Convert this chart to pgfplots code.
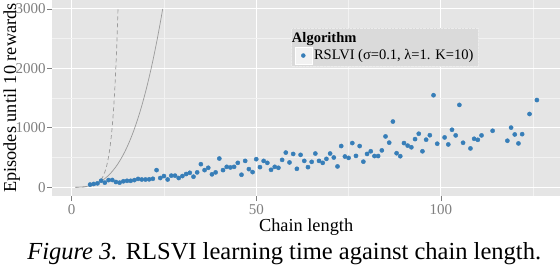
\documentclass[border=0pt]{standalone}
\usepackage{pgfplots}
\pgfplotsset{compat=1.18}
\usepackage{fontspec}
\setmainfont{Liberation Serif}
\newfontfamily\lser{Liberation Serif}
\definecolor{panel}{HTML}{E5E5E5}
\definecolor{minorgrid}{HTML}{F2F2F2}
\definecolor{ticktext}{HTML}{7F7F7F}
\definecolor{ptblue}{HTML}{377EB8}
\definecolor{curvegray}{HTML}{9A9A9A}
\definecolor{legbg}{HTML}{DADADA}
\definecolor{keybg}{HTML}{F2F2F2}

\pgfplotstableread{
n v
5 45
6 55
7 65
8 110
9 77
10 120
11 122
12 88
13 77
14 100
15 108
16 108
17 120
18 140
19 130
20 130
21 133
22 142
23 288
24 155
25 188
26 130
27 195
28 195
29 155
30 188
31 222
32 243
33 177
34 250
35 388
36 288
37 327
38 217
39 250
40 483
41 288
42 343
43 333
44 343
45 410
46 210
47 443
48 305
49 255
50 472
51 338
52 443
53 410
54 293
55 343
56 327
57 460
58 583
59 417
60 560
61 310
62 545
63 443
64 338
65 427
66 567
67 443
68 410
69 477
70 567
71 500
72 350
73 693
74 517
75 493
76 743
77 527
78 693
79 430
80 560
81 605
82 525
83 525
84 620
85 855
86 750
87 1105
88 572
89 522
90 743
91 700
92 672
93 810
94 900
95 605
96 800
97 875
98 1548
99 732
101 838
102 720
103 967
104 872
105 1385
106 748
108 653
109 815
110 798
111 872
114 950
118 782
119 1003
120 888
121 737
122 893
124 1232
126 1467
}\rlsvi

\pgfplotstableread{
n v
1 0.2
2 1.6
3 5.4
4 12.8
5 25
6 43.2
7 68.6
8 102.4
9 145.8
10 200
11 266.2
12 345.6
13 439.4
14 548.8
15 675
16 819.2
17 982.6
18 1166.4
19 1371.8
20 1600
21 1852.2
22 2129.6
23 2433.4
24 2764.8
24.66 2999
}\cubic

\pgfplotstableread{
n v
1 1
2 2
3 4
4 8
5 16
6 32
7 64
7.5 90.5
8 128
8.5 181
9 256
9.25 304.4
9.5 362
9.75 430.5
10 512
10.25 608.9
10.5 724.1
10.75 861.1
11 1024
11.25 1217.7
11.5 1448.2
11.75 1722.2
12 2048
12.25 2435.5
12.5 2896.3
12.55 2998
}\expo

\begin{document}
\begin{tikzpicture}
\useasboundingbox (-52.2pt,-70pt) rectangle (507.4pt,196pt);
\begin{axis}[
  at={(0pt,0pt)}, anchor=south west,
  scale only axis, width=507.4pt, height=196pt,
  xmin=-5.25, xmax=132.25, ymin=-150, ymax=3150,
  axis background/.style={fill=panel},
  axis line style={draw=none},
  xtick={0,50,100}, ytick={0,1000,2000,3000},
  minor xtick={25,75,125}, minor ytick={500,1500,2500},
  grid=both,
  major grid style={white, line width=1.1pt},
  minor grid style={minorgrid, line width=0.6pt},
  tick pos=left,
  tick align=outside,
  major tick length=5pt, minor tick length=0pt,
  tick style={ticktext, line width=0.8pt},
  ticklabel style={font=\lser\fontsize{15}{17}\selectfont, text=ticktext},
  yticklabel style={xshift=2pt},
  /pgf/number format/assume math mode=true,
  /pgf/number format/1000 sep={},
  xlabel={Chain length}, ylabel={Episodes until 10 rewards},
  label style={font=\lser\fontsize{18.3}{20}\selectfont},
  xlabel style={at={(axis description cs:0.5,-0.179)}, anchor=base},
  ylabel style={at={(axis description cs:-0.080,0.5)}, anchor=center},
  legend style={at={(rel axis cs:0.471,0.857)}, anchor=north west,
    fill=legbg, draw=white!85!gray, densely dotted,
    font=\lser\fontsize{14.5}{16}\selectfont,
    inner xsep=3pt, inner ysep=2pt, row sep=1pt},
  legend cell align=left,
]
\addplot[curvegray, line width=0.7pt, smooth, forget plot] table[x=n,y=v] {\cubic};
\addplot[curvegray, line width=0.7pt, dash pattern=on 4pt off 3pt, smooth, forget plot] table[x=n,y=v] {\expo};
\addlegendimage{empty legend}
\addlegendentry{\hspace*{-22pt}\textbf{Algorithm}}
\addplot[only marks, mark=*, mark size=2.1pt, color=ptblue,
  mark options={draw=ptblue, fill=ptblue, solid},
  legend image code/.code={
    \draw[fill=keybg, draw=white, solid] (0pt,-8.5pt) rectangle (17pt,8.5pt);
    \fill[ptblue] (8.5pt,0pt) circle (2pt);
  }] table[x=n,y=v] {\rlsvi};
\addlegendentry{RSLVI (σ=0.1, λ=1. K=10)}
\end{axis}
\node[anchor=base, font=\lser\fontsize{24.5}{26}\selectfont] at (231.8pt,-63pt) {\textit{Figure 3.} RLSVI learning time against chain length.};
\end{tikzpicture}
\end{document}
